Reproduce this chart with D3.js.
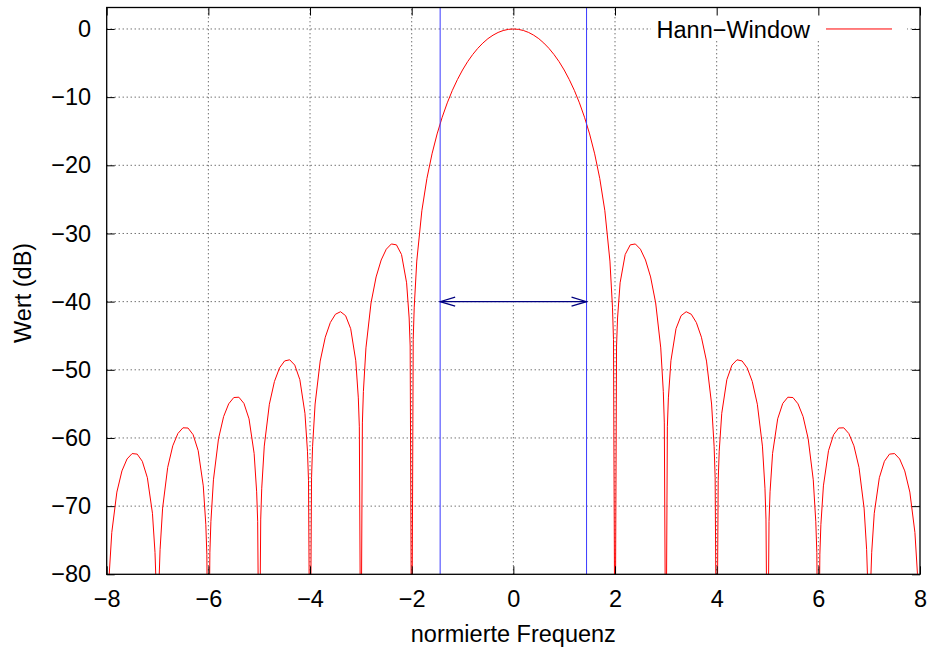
<!DOCTYPE html>
<html>
<head>
<meta charset="utf-8">
<script src="https://cdn.jsdelivr.net/npm/d3@7"></script>
<style>
  body { margin: 0; background: #fff; }
  svg { display: block; font-family: "Liberation Sans", Arial, sans-serif; }
</style>
</head>
<body>
<div id="chart"></div>
<script>
var leftLobes = [
    [-8, -100], [-7.95, -79.94], [-7.9, -73.86], [-7.8, -67.94], [-7.7, -64.83], [-7.6, -63.08], [-7.5, -62.29],
    [-7.4, -62.37], [-7.3, -63.42], [-7.2, -65.83], [-7.1, -71.05], [-7.05, -76.77], [-7.03, -81.11], [-7, -100],
    [-6.97, -80.89], [-6.95, -76.39], [-6.9, -70.29], [-6.8, -64.32], [-6.7, -61.15], [-6.6, -59.35], [-6.5, -58.51],
    [-6.4, -58.54], [-6.3, -59.52], [-6.2, -61.87], [-6.1, -67.03], [-6.05, -72.72], [-6.03, -77.05], [-6, -100],
    [-5.97, -76.78], [-5.95, -72.28], [-5.9, -66.14], [-5.8, -60.10], [-5.7, -56.86], [-5.6, -54.99], [-5.5, -54.07],
    [-5.4, -54.02], [-5.3, -54.93], [-5.2, -57.19], [-5.1, -62.26], [-5.05, -67.90], [-5.03, -72.22], [-5, -100],
    [-4.97, -71.90], [-4.95, -67.37], [-4.9, -61.19], [-4.8, -55.05], [-4.7, -51.71], [-4.6, -49.72], [-4.5, -48.70],
    [-4.4, -48.53], [-4.3, -49.31], [-4.2, -51.45], [-4.1, -56.38], [-4.05, -61.95], [-4.03, -66.24], [-4, -100],
    [-3.97, -65.83], [-3.95, -61.27], [-3.9, -55.02], [-3.8, -48.72], [-3.7, -45.22], [-3.6, -43.06], [-3.5, -41.85],
    [-3.4, -41.48], [-3.3, -42.06], [-3.2, -43.97], [-3.1, -48.67], [-3.05, -54.12], [-3.03, -58.36], [-3, -100],
    [-2.97, -57.79], [-2.95, -53.18], [-2.9, -46.79], [-2.8, -40.20], [-2.7, -36.38], [-2.6, -33.89], [-2.5, -32.31],
    [-2.4, -31.54], [-2.3, -31.67], [-2.2, -33.09], [-2.1, -37.24], [-2.05, -42.40], [-2.03, -46.51], [-2, -100]
];

var mainLobe = [
    [-1.97, -45.55], [-1.95, -40.81], [-1.9, -34.05], [-1.8, -26.67], [-1.7, -21.92], [-1.6, -18.32], [-1.5, -15.40],
    [-1.4, -12.95], [-1.3, -10.84], [-1.2, -9.01], [-1.1, -7.42], [-1.0, -6.02], [-0.9, -4.80], [-0.8, -3.75],
    [-0.7, -2.84], [-0.6, -2.07], [-0.5, -1.42], [-0.4, -0.91], [-0.3, -0.51], [-0.2, -0.23], [-0.1, -0.06],
    [0, 0],
    [0.1, -0.06], [0.2, -0.23], [0.3, -0.51], [0.4, -0.91], [0.5, -1.42], [0.6, -2.07], [0.7, -2.84],
    [0.8, -3.75], [0.9, -4.80], [1.0, -6.02], [1.1, -7.42], [1.2, -9.01], [1.3, -10.84], [1.4, -12.95],
    [1.5, -15.40], [1.6, -18.32], [1.7, -21.92], [1.8, -26.67], [1.9, -34.05], [1.95, -40.81], [1.97, -45.55]
];

var rightLobes = [
    [2, -100], [2.03, -46.51], [2.05, -42.40], [2.1, -37.24], [2.2, -33.09], [2.3, -31.67], [2.4, -31.54],
    [2.5, -32.31], [2.6, -33.89], [2.7, -36.38], [2.8, -40.20], [2.9, -46.79], [2.95, -53.18], [2.97, -57.79],
    [3, -100], [3.03, -58.36], [3.05, -54.12], [3.1, -48.67], [3.2, -43.97], [3.3, -42.06], [3.4, -41.48],
    [3.5, -41.85], [3.6, -43.06], [3.7, -45.22], [3.8, -48.72], [3.9, -55.02], [3.95, -61.27], [3.97, -65.83],
    [4, -100], [4.03, -66.24], [4.05, -61.95], [4.1, -56.38], [4.2, -51.45], [4.3, -49.31], [4.4, -48.53],
    [4.5, -48.70], [4.6, -49.72], [4.7, -51.71], [4.8, -55.05], [4.9, -61.19], [4.95, -67.37], [4.97, -71.90],
    [5, -100], [5.03, -72.22], [5.05, -67.90], [5.1, -62.26], [5.2, -57.19], [5.3, -54.93], [5.4, -54.02],
    [5.5, -54.07], [5.6, -54.99], [5.7, -56.86], [5.8, -60.10], [5.9, -66.14], [5.95, -72.28], [5.97, -76.78],
    [6, -100], [6.03, -77.05], [6.05, -72.72], [6.1, -67.03], [6.2, -61.87], [6.3, -59.52], [6.4, -58.54],
    [6.5, -58.51], [6.6, -59.35], [6.7, -61.15], [6.8, -64.32], [6.9, -70.29], [6.95, -76.39], [6.97, -80.89],
    [7, -100], [7.03, -81.11], [7.05, -76.77], [7.1, -71.05], [7.2, -65.83], [7.3, -63.42], [7.4, -62.37],
    [7.5, -62.29], [7.6, -63.08], [7.7, -64.83], [7.8, -67.94], [7.9, -73.86], [7.95, -79.94], [8, -100]
];

var xTicks = [-8, -6, -4, -2, 0, 2, 4, 6, 8];
var yTicks = [-80, -70, -60, -50, -40, -30, -20, -10, 0];
var bandEdges = [-1.44, 1.44];   // 3-dB-Bandbreite
var arrowLevel = -40;
var seriesName = "Hann\u2212Window";

var W = 931, H = 651;
var margin = {left: 106.7, top: 7.5, right: 11, bottom: 76.7};
var fontSize = 23.5;

var x = d3.scaleLinear().domain([-8, 8]).range([margin.left, W - margin.right]);
var y = d3.scaleLinear().domain([-80, 3.15]).range([H - margin.bottom, margin.top]);

var svg = d3.select("#chart").append("svg")
    .attr("width", W)
    .attr("height", H);

svg.append("defs").append("clipPath").attr("id", "plotclip")
    .append("rect")
    .attr("x", x(-8)).attr("y", y(3.15))
    .attr("width", x(8) - x(-8)).attr("height", y(-80) - y(3.15));

// Gitter
var grid = svg.append("g").attr("class", "grid")
    .attr("stroke", "#333").attr("stroke-width", 1).attr("stroke-dasharray", "1,3");
grid.selectAll(".gy").data(yTicks.filter(function (d) { return d > -80; }))
    .enter().append("line")
    .attr("x1", x(-8)).attr("x2", x(8))
    .attr("y1", function (d) { return y(d); }).attr("y2", function (d) { return y(d); });
grid.selectAll(".gx").data(xTicks.filter(function (d) { return d > -8 && d < 8; }))
    .enter().append("line")
    .attr("y1", y(-80)).attr("y2", y(3.15))
    .attr("x1", function (d) { return x(d); }).attr("x2", function (d) { return x(d); });

// Legende (weisser Hintergrund, kein Rahmen)
var legend = svg.append("g");
legend.append("rect")
    .attr("x", 651).attr("y", y(3.15))
    .attr("width", 256).attr("height", 33)
    .attr("fill", "#fff");
legend.append("text")
    .attr("x", 810).attr("y", 37.5)
    .attr("text-anchor", "end")
    .attr("font-size", fontSize)
    .attr("fill", "#000")
    .text(seriesName);
legend.append("line")
    .attr("x1", 826).attr("x2", 892)
    .attr("y1", y(0)).attr("y2", y(0))
    .attr("stroke", "#ff0000").attr("stroke-width", 1);

// Kurve
var line = d3.line()
    .x(function (d) { return x(d[0]); })
    .y(function (d) { return y(d[1]); });

svg.append("path")
    .datum(leftLobes.concat(mainLobe, rightLobes))
    .attr("clip-path", "url(#plotclip)")
    .attr("fill", "none")
    .attr("stroke", "#ff0000")
    .attr("stroke-width", 1)
    .attr("d", line);

// Bandbreite: senkrechte Linien + Doppelpfeil
svg.selectAll(".edge").data(bandEdges)
    .enter().append("line")
    .attr("x1", function (d) { return x(d); }).attr("x2", function (d) { return x(d); })
    .attr("y1", y(3.15)).attr("y2", y(-80))
    .attr("stroke", "#3a3aff").attr("stroke-width", 1);

var ay = y(arrowLevel);
var arrow = svg.append("g").attr("stroke", "#000080").attr("stroke-width", 1.2).attr("fill", "none");
arrow.append("line")
    .attr("x1", x(bandEdges[0])).attr("x2", x(bandEdges[1]))
    .attr("y1", ay).attr("y2", ay);
arrow.append("path")
    .attr("d", "M" + (x(bandEdges[0]) + 15) + "," + (ay - 4.5) + "L" + x(bandEdges[0]) + "," + ay + "L" + (x(bandEdges[0]) + 15) + "," + (ay + 4.5));
arrow.append("path")
    .attr("d", "M" + (x(bandEdges[1]) - 15) + "," + (ay - 4.5) + "L" + x(bandEdges[1]) + "," + ay + "L" + (x(bandEdges[1]) - 15) + "," + (ay + 4.5));

// Achsen (Ticks nach innen, auch oben/rechts)
function styleAxis(g) {
    g.select(".domain").remove();
    g.selectAll("text").attr("font-size", fontSize).attr("fill", "#000")
        .attr("font-family", "'Liberation Sans', Arial, sans-serif");
    g.selectAll(".tick line").attr("stroke", "#000").attr("stroke-width", 1);
}

svg.append("g")
    .attr("transform", "translate(" + x(-8) + ",0)")
    .call(d3.axisLeft(y).tickValues(yTicks).tickSize(-8).tickPadding(15.5).tickFormat(d3.format("d")))
    .call(styleAxis);
svg.append("g")
    .attr("transform", "translate(" + x(8) + ",0)")
    .call(d3.axisRight(y).tickValues(yTicks).tickSize(-8).tickFormat(""))
    .call(styleAxis);
svg.append("g")
    .attr("transform", "translate(0," + y(-80) + ")")
    .call(d3.axisBottom(x).tickValues(xTicks).tickSize(-8).tickPadding(16.5).tickFormat(d3.format("d")))
    .call(styleAxis);
svg.append("g")
    .attr("transform", "translate(0," + y(3.15) + ")")
    .call(d3.axisTop(x).tickValues(xTicks).tickSize(-8).tickFormat(""))
    .call(styleAxis);

// Rahmen
svg.append("rect")
    .attr("x", x(-8)).attr("y", y(3.15))
    .attr("width", x(8) - x(-8)).attr("height", y(-80) - y(3.15))
    .attr("fill", "none").attr("stroke", "#000").attr("stroke-width", 1.3);

// Achsentitel
svg.append("text")
    .attr("x", (x(-8) + x(8)) / 2).attr("y", 642)
    .attr("text-anchor", "middle").attr("font-size", fontSize)
    .text("normierte Frequenz");
svg.append("text")
    .attr("transform", "translate(31," + ((y(-80) + y(3.15)) / 2 + 2) + ")rotate(-90)")
    .attr("text-anchor", "middle").attr("font-size", fontSize)
    .text("Wert (dB)");
</script>
</body>
</html>
